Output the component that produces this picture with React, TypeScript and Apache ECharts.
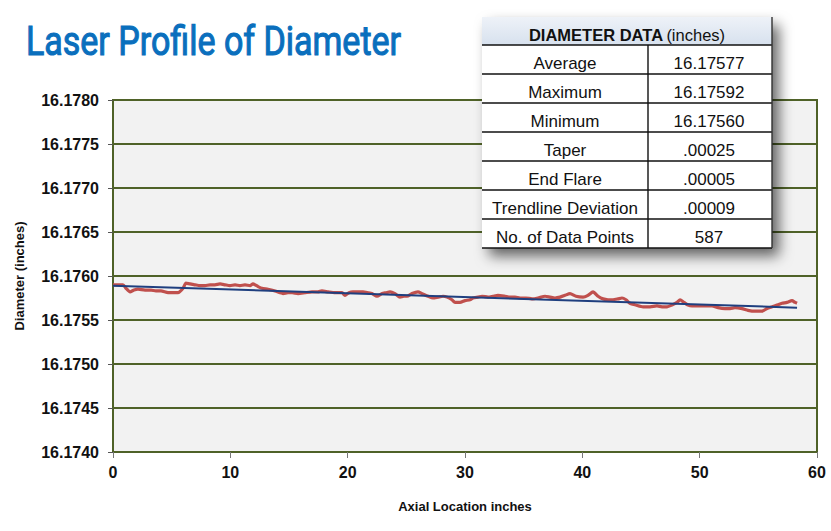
import React, { useEffect, useRef } from "react";
import * as echarts from "echarts";

// Axial location (inches) of the measured profile
const axialLocation = [
  0, 0.43, 0.85, 1.11, 1.45, 1.79, 2.13, 2.73, 3.24, 3.66, 4.09, 4.69, 5.11, 5.54, 5.97, 6.22,
  6.56, 6.99, 7.42, 7.84, 8.27, 8.69, 9.12, 9.55, 9.97, 10.4, 10.82, 11.25, 11.68, 11.93, 12.36,
  12.7, 13.21, 13.81, 14.23, 14.49, 14.92, 15.26, 15.77, 16.36, 16.96, 17.47, 17.81, 18.32, 18.92,
  19.52, 19.77, 20.11, 20.45, 20.88, 21.31, 21.73, 22.07, 22.5, 22.93, 23.27, 23.61, 24.03, 24.46,
  24.8, 25.06, 25.48, 25.99, 26.34, 26.85, 27.27, 27.7, 28.13, 28.47, 28.89, 29.15, 29.57, 30.0,
  30.43, 30.68, 31.11, 31.45, 31.96, 32.39, 32.81, 33.41, 33.84, 34.26, 34.69, 35.2, 35.71, 36.22,
  36.82, 37.25, 37.67, 38.1, 38.52, 38.95, 39.46, 40.06, 40.48, 40.91, 41.34, 41.76, 42.19, 42.61,
  43.04, 43.38, 43.72, 44.06, 44.57, 45.17, 45.77, 46.36, 46.79, 47.22, 47.64, 48.07, 48.33, 48.67,
  49.01, 49.35, 49.86, 50.46, 51.05, 51.57, 52.16, 52.59, 53.01, 53.61, 54.12, 54.72, 55.31, 55.74,
  56.17, 56.59, 57.02, 57.44, 57.87, 58.13, 58.3,
];

// Measured diameter (inches)
const diameter = [
  16.1759, 16.1759, 16.1759, 16.17586, 16.17582, 16.17584, 16.17585, 16.17584, 16.17584, 16.17583,
  16.17583, 16.17581, 16.17581, 16.17581, 16.17586, 16.17592, 16.17591, 16.1759, 16.17589, 16.17589,
  16.1759, 16.1759, 16.17591, 16.1759, 16.17589, 16.1759, 16.17589, 16.1759, 16.17589, 16.17591,
  16.17588, 16.17586, 16.17585, 16.17583, 16.17581, 16.1758, 16.17581, 16.17581, 16.1758, 16.17581,
  16.17582, 16.17582, 16.17583, 16.17582, 16.17581, 16.17581, 16.17578, 16.17581, 16.17582, 16.17582,
  16.17582, 16.17581, 16.1758, 16.17577, 16.1758, 16.17581, 16.17582, 16.1758, 16.17576, 16.17577,
  16.17577, 16.1758, 16.17582, 16.1758, 16.17577, 16.17575, 16.17576, 16.17577, 16.17576, 16.17573,
  16.1757, 16.1757, 16.17572, 16.17573, 16.17575, 16.17576, 16.17577, 16.17576, 16.17577, 16.17578,
  16.17577, 16.17576, 16.17576, 16.17575, 16.17575, 16.17574, 16.17575, 16.17577, 16.17576, 16.17575,
  16.17576, 16.17578, 16.1758, 16.17577, 16.17576, 16.17578, 16.17582, 16.17577, 16.17574, 16.17573,
  16.17573, 16.17574, 16.17575, 16.17573, 16.17569, 16.17567, 16.17565, 16.17565, 16.17566, 16.17565,
  16.17565, 16.17567, 16.1757, 16.17573, 16.1757, 16.17567, 16.17566, 16.17566, 16.17566, 16.17566,
  16.17564, 16.17563, 16.17563, 16.17564, 16.17563, 16.17561, 16.1756, 16.1756, 16.17563, 16.17565,
  16.17567, 16.17569, 16.1757, 16.17572, 16.1757, 16.17569,
];

// Linear trendline end points
const trendX = [0, 58.3];
const trendY = [16.17589, 16.17564];

// Summary table
const tableTitle = "DIAMETER DATA";
const tableUnit = "(inches)";
const tableLabels = [
  "Average",
  "Maximum",
  "Minimum",
  "Taper",
  "End Flare",
  "Trendline Deviation",
  "No. of Data Points",
];
const tableValues = ["16.17577", "16.17592", "16.17560", ".00025", ".00005", ".00009", "587"];

const chartTitle = "Laser Profile of Diameter";
const xAxisName = "Axial Location inches";
const yAxisName = "Diameter (inches)";

const OLIVE = "#4f6228";
const TFONT = "Liberation Sans, Arial, sans-serif";

function buildTable(): any[] {
  const left = 482;
  const top = 17;
  const width = 290;
  const headH = 28;
  const rowH = 29;
  const divX = 648;
  const rowsH = rowH * tableLabels.length;
  const totalH = headH + rowsH;
  const children: any[] = [];
  children.push({
    type: "rect",
    shape: { x: left, y: top, width, height: totalH },
    style: {
      fill: "#ffffff",
      shadowBlur: 14,
      shadowOffsetX: 7,
      shadowOffsetY: 8,
      shadowColor: "rgba(0,0,0,0.6)",
    },
    z: 100,
  });
  children.push({
    type: "rect",
    shape: { x: left, y: top, width, height: headH },
    style: {
      fill: new echarts.graphic.LinearGradient(0, 0, 0, 1, [
        { offset: 0, color: "#eef2f8" },
        { offset: 1, color: "#d7e1ee" },
      ]),
    },
    z: 101,
  });
  children.push({
    type: "text",
    x: left + width / 2,
    y: top + headH / 2 + 4,
    style: {
      text: `{b|${tableTitle}} {n|${tableUnit}}`,
      align: "center",
      verticalAlign: "middle",
      rich: {
        b: { fontFamily: TFONT, fontSize: 16.5, fontWeight: "bold", fill: "#111" },
        n: { fontFamily: TFONT, fontSize: 16.5, fill: "#111" },
      },
    },
    z: 103,
  });
  for (let i = 0; i <= tableLabels.length; i++) {
    const y = top + headH + i * rowH;
    children.push({
      type: "line",
      shape: { x1: left, y1: y, x2: left + width, y2: y },
      style: { stroke: "#111", lineWidth: 1.4 },
      z: 102,
    });
  }
  children.push({
    type: "line",
    shape: { x1: divX, y1: top + headH, x2: divX, y2: top + totalH },
    style: { stroke: "#111", lineWidth: 1.4 },
    z: 102,
  });
  children.push({
    type: "line",
    shape: { x1: left + width, y1: top, x2: left + width, y2: top + totalH },
    style: { stroke: "#333", lineWidth: 1.4 },
    z: 102,
  });
  tableLabels.forEach((lab, i) => {
    const cy = top + headH + i * rowH + rowH / 2 + 4;
    children.push({
      type: "text",
      x: (left + divX) / 2,
      y: cy,
      style: {
        text: lab,
        align: "center",
        verticalAlign: "middle",
        fontFamily: TFONT,
        fontSize: 17,
        fill: "#111",
      },
      z: 103,
    });
    children.push({
      type: "text",
      x: (divX + left + width) / 2 - 1,
      y: cy,
      style: {
        text: tableValues[i],
        align: "center",
        verticalAlign: "middle",
        fontFamily: TFONT,
        fontSize: 17,
        fill: "#111",
      },
      z: 103,
    });
  });
  return children;
}

export default function App() {
  const ref = useRef<HTMLDivElement>(null);
  useEffect(() => {
    document.body.style.margin = "0";
    if (!ref.current) return;
    const chart = echarts.init(ref.current, undefined, { renderer: "svg" });
    const profile = axialLocation.map((x, i) => [x, diameter[i]]);
    const trend = trendX.map((x, i) => [x, trendY[i]]);
    chart.setOption({
      animation: false,
      backgroundColor: "#ffffff",
      grid: {
        left: 113,
        right: 14,
        top: 100,
        bottom: 79,
        show: true,
        backgroundColor: "#f2f2f2",
        borderColor: OLIVE,
        borderWidth: 2,
      },
      xAxis: {
        type: "value",
        min: 0,
        max: 60,
        interval: 10,
        name: xAxisName,
        nameLocation: "middle",
        nameGap: 48,
        nameTextStyle: { fontFamily: TFONT, fontSize: 13, fontWeight: "bold", color: "#111" },
        axisLine: { show: true, lineStyle: { color: OLIVE, width: 2 } },
        axisTick: { show: true, length: 6, lineStyle: { color: "#777" } },
        axisLabel: { fontFamily: TFONT, fontSize: 16, fontWeight: "bold", color: "#111", margin: 12 },
        splitLine: { show: false },
      },
      yAxis: {
        type: "value",
        min: 16.174,
        max: 16.178,
        interval: 0.0005,
        name: yAxisName,
        nameLocation: "middle",
        nameGap: 87,
        nameRotate: 90,
        nameTextStyle: { fontFamily: TFONT, fontSize: 13, fontWeight: "bold", color: "#111" },
        axisLine: { show: true, lineStyle: { color: OLIVE, width: 2 } },
        axisTick: { show: true, length: 5, lineStyle: { color: "#555" } },
        axisLabel: {
          fontFamily: TFONT,
          fontSize: 16,
          fontWeight: "bold",
          color: "#111",
          margin: 14,
          formatter: (v: number) => v.toFixed(4),
        },
        splitLine: { show: true, lineStyle: { color: OLIVE, width: 2 } },
      },
      series: [
        {
          type: "line",
          data: profile,
          showSymbol: false,
          smooth: 0.2,
          lineStyle: { color: "#c0504d", width: 3.2 },
          z: 3,
        },
        {
          type: "line",
          data: trend,
          showSymbol: false,
          lineStyle: { color: "#1f3f7f", width: 2 },
          z: 4,
        },
      ],
      graphic: [
        {
          type: "text",
          x: 26,
          y: 22,
          scaleX: 0.85,
          style: {
            text: chartTitle,
            fontFamily: "Roboto, sans-serif",
            fontSize: 40,
            fontWeight: "normal",
            fill: "#0a6fbd",
            stroke: "#0a6fbd",
            lineWidth: 1.1,
            verticalAlign: "top",
          },
          z: 50,
        },
        ...buildTable(),
      ],
    });
    return () => chart.dispose();
  }, []);
  return <div ref={ref} style={{ width: 831, height: 531 }} />;
}
